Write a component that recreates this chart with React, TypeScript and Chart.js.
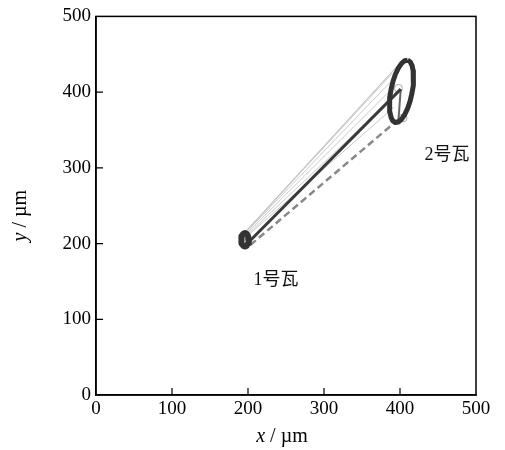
import React, { useEffect, useRef } from "react";
import { Chart, registerables } from "chart.js";

Chart.register(...registerables);

// ---- data ----
const xTickValues = [0, 100, 200, 300, 400, 500];
const yTickValues = [0, 100, 200, 300, 400, 500];

// outline of the trajectory near tile 2 (2号瓦)
const tile2Outline: [number, number][] = [
  [410.0, 442.2], [413.3, 440.1], [415.8, 435.3], [417.3, 428.2], [417.9, 419.3],
  [417.3, 409.1], [415.7, 398.3], [413.2, 387.7], [409.9, 378.1], [406.0, 370.0],
  [401.9, 364.0], [397.8, 360.5], [394.0, 359.8], [390.7, 361.9], [388.2, 366.7],
  [386.7, 373.8], [386.1, 382.7], [386.7, 392.9], [388.3, 403.7], [390.8, 414.3],
  [394.1, 423.9], [398.0, 432.0], [402.1, 438.0], [406.2, 441.5], [410.0, 442.2],
];

// outline of the trajectory near tile 1 (1号瓦)
const tile1Outline: [number, number][] = [
  [201, 205], [200.3, 209.5], [198.5, 212.8], [196, 214], [193.5, 212.8],
  [191.7, 209.5], [191, 205], [191.7, 200.5], [193.5, 197.2], [196, 196],
  [198.5, 197.2], [200.3, 200.5], [201, 205],
];

const solidPath: [number, number][] = [[202, 203], [401, 404]];
const returnPath: [number, number][] = [[401, 404], [398, 364]];
const dashedPath: [number, number][] = [[398, 364], [203, 198]];

const fanStarts: [number, number][] = [
  [193, 212], [195, 213], [192, 209], [197, 212], [194, 207], [199, 210], [196, 214],
];
const fanEnds: [number, number][] = [
  [395, 433], [390, 425], [387, 413], [386, 401], [388, 390], [392, 380], [399, 437],
];

const markerPoints: [number, number][] = [[398, 405], [404, 366]];

const labelTexts = ["1号瓦", "2号瓦"];
const labelX = [237, 462];
const labelY = [151, 316];

const toPts = (arr: [number, number][]) => arr.map(([x, y]) => ({ x, y }));

const SERIF = "'Liberation Serif', 'Times New Roman', serif";
const LABEL_FONT = "'Liberation Serif', 'Noto Sans CJK SC', serif";

const decorPlugin = {
  id: "decor",
  afterDraw(chart: any) {
    const { ctx, chartArea, scales } = chart;
    const { left, right, top, bottom } = chartArea;
    ctx.save();
    // frame
    ctx.strokeStyle = "#000";
    ctx.lineWidth = 1.5;
    ctx.strokeRect(left, top, right - left, bottom - top);
    // inner ticks
    ctx.lineWidth = 1.2;
    ctx.beginPath();
    for (const v of xTickValues) {
      if (v === 0 || v === 500) continue;
      const px = scales.x.getPixelForValue(v);
      ctx.moveTo(px, bottom);
      ctx.lineTo(px, bottom - 7);
    }
    for (const v of yTickValues) {
      if (v === 0 || v === 500) continue;
      const py = scales.y.getPixelForValue(v);
      ctx.moveTo(left, py);
      ctx.lineTo(left + 7, py);
    }
    ctx.stroke();
    // labels
    ctx.fillStyle = "#111";
    ctx.font = `18px ${LABEL_FONT}`;
    ctx.textAlign = "center";
    ctx.textBaseline = "middle";
    labelTexts.forEach((t, i) => {
      ctx.fillText(t, scales.x.getPixelForValue(labelX[i]), scales.y.getPixelForValue(labelY[i]));
    });
    // axis titles
    const drawTitle = (italic: string, rest: string) => {
      ctx.font = `italic 20px ${SERIF}`;
      const w1 = ctx.measureText(italic).width;
      ctx.font = `20px ${SERIF}`;
      const w2 = ctx.measureText(rest).width;
      const start = -(w1 + w2) / 2;
      ctx.textAlign = "left";
      ctx.textBaseline = "alphabetic";
      ctx.font = `italic 20px ${SERIF}`;
      ctx.fillText(italic, start, 0);
      ctx.font = `20px ${SERIF}`;
      ctx.fillText(rest, start + w1, 0);
    };
    ctx.fillStyle = "#000";
    ctx.save();
    ctx.translate((left + right) / 2 - 4, 442);
    drawTitle("x", " / µm");
    ctx.restore();
    ctx.save();
    ctx.translate(26, (top + bottom) / 2 + 10);
    ctx.rotate(-Math.PI / 2);
    drawTitle("y", " / µm");
    ctx.restore();
    ctx.restore();
  },
};

export default function App() {
  const canvasRef = useRef<HTMLCanvasElement | null>(null);

  useEffect(() => {
    if (!canvasRef.current) return;
    const lineDs = (data: [number, number][], color: string, width: number, extra: any = {}) => ({
      data: toPts(data),
      showLine: true,
      borderColor: color,
      backgroundColor: color,
      borderWidth: width,
      pointRadius: 0,
      fill: false,
      tension: 0,
      ...extra,
    });

    const datasets: any[] = [
      lineDs(tile2Outline, "#333", 5, { borderJoinStyle: "round" }),
      lineDs(tile1Outline, "#333", 6, { borderJoinStyle: "round" }),
      lineDs(solidPath, "#3a3a3a", 3),
      lineDs(returnPath, "#666", 2),
      lineDs(dashedPath, "#888", 2.5, { borderDash: [7, 4] }),
      {
        data: toPts(markerPoints),
        showLine: false,
        pointRadius: 4,
        pointBorderWidth: 1,
        pointBorderColor: "#aaa",
        pointBackgroundColor: "rgba(0,0,0,0)",
      },
      ...fanStarts.map((s, i) => lineDs([s, fanEnds[i]], "#c4c4c4", 0.9)),
    ];

    const tickFont = { family: SERIF, size: 19 };
    const chart = new Chart(canvasRef.current, {
      type: "scatter",
      data: { datasets },
      options: {
        responsive: false,
        animation: false,
        layout: { padding: { top: 15, right: 29, left: 0, bottom: 0 } },
        plugins: { legend: { display: false }, tooltip: { enabled: false } },
        scales: {
          x: {
            type: "linear",
            min: 0,
            max: 500,
            afterBuildTicks: (s: any) => { s.ticks = xTickValues.map((v) => ({ value: v })); },
            ticks: { font: tickFont, color: "#000", padding: 3, maxRotation: 0 },
            grid: { display: false, drawTicks: false },
            border: { display: true, color: "#000", width: 1.5 },
            afterFit: (s: any) => { s.height = 55; },
          },
          y: {
            type: "linear",
            min: 0,
            max: 500,
            afterBuildTicks: (s: any) => { s.ticks = yTickValues.map((v) => ({ value: v })); },
            ticks: { font: tickFont, color: "#000", padding: 5 },
            grid: { display: false, drawTicks: false },
            border: { display: true, color: "#000", width: 1.5 },
            afterFit: (s: any) => { s.width = 96; },
          },
        },
      } as any,
      plugins: [decorPlugin],
    });
    return () => chart.destroy();
  }, []);

  return (
    <div style={{ position: "fixed", left: 0, top: 0, width: 505, height: 450, background: "#fff" }}>
      <canvas ref={canvasRef} width={505} height={450} />
    </div>
  );
}
